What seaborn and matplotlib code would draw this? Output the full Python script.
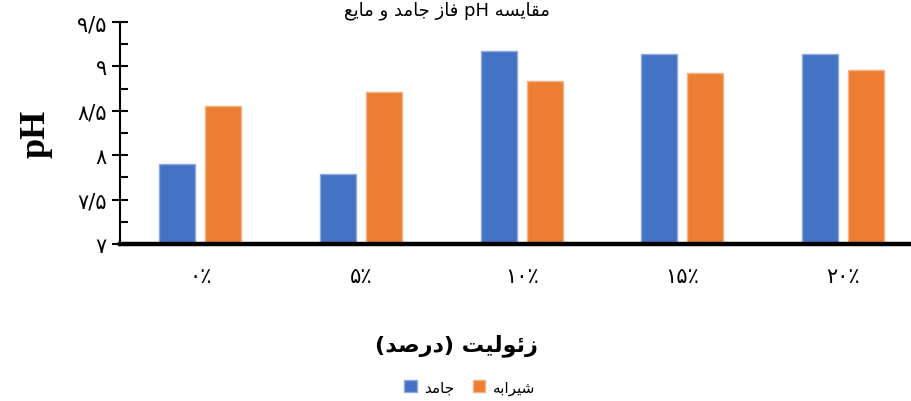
import re
import pandas as pd
import matplotlib.pyplot as plt
import seaborn as sns

# zeolite percent categories and pH of each phase
categories = ["۰٪", "۵٪", "۱۰٪", "۱۵٪", "۲۰٪"]
solid_ph = [7.90, 7.79, 9.17, 9.14, 9.14]
leachate_ph = [8.56, 8.71, 8.84, 8.93, 8.96]
y_ticks = [7, 7.5, 8, 8.5, 9, 9.5]
y_tick_labels = ["۷", "۷/۵", "۸", "۸/۵", "۹", "۹/۵"]

SOLID = "جامد"
LEACHATE = "شیرابه"
TITLE = "مقایسه pH فاز جامد و مایع"
XLABEL = "زئولیت (درصد)"

# minimal arabic shaping: isolated, final, initial, medial
FORMS = {
    "ا": (0xFE8D, 0xFE8E, None, None),
    "ب": (0xFE8F, 0xFE90, 0xFE91, 0xFE92),
    "ت": (0xFE95, 0xFE96, 0xFE97, 0xFE98),
    "ج": (0xFE9D, 0xFE9E, 0xFE9F, 0xFEA0),
    "د": (0xFEA9, 0xFEAA, None, None),
    "ر": (0xFEAD, 0xFEAE, None, None),
    "ز": (0xFEAF, 0xFEB0, None, None),
    "س": (0xFEB1, 0xFEB2, 0xFEB3, 0xFEB4),
    "ش": (0xFEB5, 0xFEB6, 0xFEB7, 0xFEB8),
    "ص": (0xFEB9, 0xFEBA, 0xFEBB, 0xFEBC),
    "ع": (0xFEC9, 0xFECA, 0xFECB, 0xFECC),
    "ف": (0xFED1, 0xFED2, 0xFED3, 0xFED4),
    "ق": (0xFED5, 0xFED6, 0xFED7, 0xFED8),
    "ل": (0xFEDD, 0xFEDE, 0xFEDF, 0xFEE0),
    "م": (0xFEE1, 0xFEE2, 0xFEE3, 0xFEE4),
    "ه": (0xFEE9, 0xFEEA, 0xFEEB, 0xFEEC),
    "و": (0xFEED, 0xFEEE, None, None),
    "ئ": (0xFE89, 0xFE8A, 0xFE8B, 0xFE8C),
    "ی": (0xFBFC, 0xFBFD, 0xFBFE, 0xFBFF),
}
MIRROR = {"(": ")", ")": "("}


def rtl(text):
    out = []
    for i, ch in enumerate(text):
        if ch not in FORMS:
            out.append(ch)
            continue
        prev = text[i - 1] if i > 0 else ""
        nxt = text[i + 1] if i + 1 < len(text) else ""
        j_prev = prev in FORMS and FORMS[prev][2] is not None
        j_next = FORMS[ch][2] is not None and nxt in FORMS
        iso, fin, ini, med = FORMS[ch]
        if j_prev and j_next:
            code = med
        elif j_prev:
            code = fin
        elif j_next:
            code = ini
        else:
            code = iso
        out.append(chr(code))
    vis = "".join(MIRROR.get(c, c) for c in reversed(out))
    # latin runs keep their own direction
    return re.sub(r"[A-Za-z0-9]+", lambda m: m.group(0)[::-1], vis)


df = pd.DataFrame({"cat": categories * 2,
                   "ph": solid_ph + leachate_ph,
                   "phase": [rtl(SOLID)] * 5 + [rtl(LEACHATE)] * 5})

sns.set_theme(style="white")
plt.rcParams["font.family"] = ["DejaVu Sans"]
plt.rcParams["text.color"] = "black"
plt.rcParams["axes.labelcolor"] = "black"
plt.rcParams["xtick.color"] = "black"
plt.rcParams["ytick.color"] = "black"

fig = plt.figure(figsize=(9.12, 4.02), dpi=100)
ax = fig.add_axes([0.1316, 0.3905, 0.881, 0.5522])

sns.barplot(data=df, x="cat", y="ph", hue="phase", ax=ax,
            palette=["#4472C4", "#ED7D31"], width=0.573, gap=0.217,
            saturation=1, linewidth=0)

edges = {"#4472C4": "#8FAADC", "#ED7D31": "#F4B183"}
for bar in ax.patches:
    fc = bar.get_facecolor()
    hexc = "#{:02X}{:02X}{:02X}".format(*[int(round(c * 255)) for c in fc[:3]])
    if hexc in edges:
        bar.set_edgecolor(edges[hexc])
        bar.set_linewidth(1.0)

ax.set_ylim(7, 9.5)
ax.set_yticks(y_ticks)
ax.set_yticklabels(y_tick_labels, fontsize=15)
ax.set_yticks([7.25, 7.75, 8.25, 8.75, 9.25], minor=True)
ax.tick_params(axis="y", which="major", direction="inout", length=11,
               width=1.5, color="black", left=True, pad=4)
ax.tick_params(axis="y", which="minor", direction="in", length=6,
               width=1.5, color="black", left=True)
ax.tick_params(axis="x", length=0, labelsize=15, pad=16)

for s in ["top", "right"]:
    ax.spines[s].set_visible(False)
ax.spines["left"].set_linewidth(1.5)
ax.spines["left"].set_color("black")
ax.spines["bottom"].set_linewidth(3.2)
ax.spines["bottom"].set_color("black")

ax.set_xlabel("")
ax.set_ylabel("pH", fontsize=26, fontweight="bold",
              family="Liberation Serif", labelpad=18)
fig.text(0.5, 0.14, rtl(XLABEL), ha="center", va="center",
         fontsize=16, fontweight="bold")
fig.text(0.49, 0.997, rtl(TITLE), ha="center", va="top", fontsize=13)

ax.legend_.remove()
h, l = ax.get_legend_handles_labels()
fig.legend(h, l, loc="center", bbox_to_anchor=(0.515, 0.035), ncol=2,
           frameon=False, fontsize=11, handlelength=0.8, handleheight=0.8,
           columnspacing=1.2, handletextpad=0.5)

fig.savefig("out.png", dpi=100)
